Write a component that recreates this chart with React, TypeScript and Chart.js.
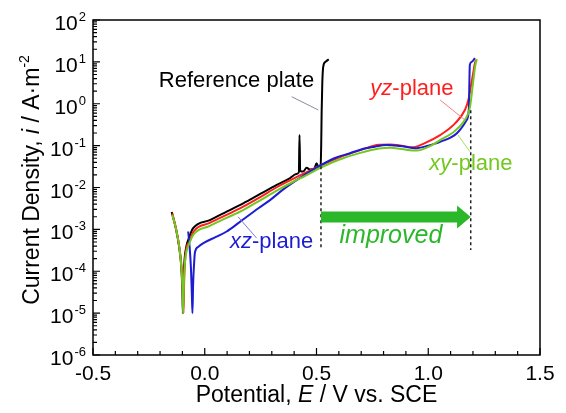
import { useEffect, useRef } from "react";
import { Chart, registerables } from "chart.js";

Chart.register(...registerables);

// ---- Data (potential E / V vs. SCE, current density i / A·m^-2) ----
const refPotential = [-0.148, -0.13, -0.115, -0.105, -0.1, -0.098, -0.095, -0.09, -0.082, -0.074, -0.052, 0.023, 0.1, 0.172, 0.25, 0.322, 0.38, 0.41, 0.421, 0.424, 0.427, 0.44, 0.456, 0.47, 0.49, 0.5, 0.51, 0.518, 0.521, 0.523, 0.526, 0.53, 0.54, 0.555];
const refCurrent = [2.6e-3, 1.1e-3, 4.0e-4, 1.26e-4, 3.2e-5, 1.0e-5, 6.3e-5, 2.0e-4, 4.0e-4, 5.6e-4, 1.07e-3, 1.66e-3, 2.7e-3, 4.2e-3, 7.1e-3, 1.15e-2, 1.66e-2, 2.1e-2, 2.3e-2, 0.18, 2.5e-2, 2.4e-2, 2.95e-2, 2.7e-2, 2.8e-2, 3.8e-2, 3.0e-2, 3.16e-2, 0.1, 0.63, 3.2, 7.6, 10, 11.5];

const yzPotential = [-0.145, -0.128, -0.113, -0.103, -0.098, -0.095, -0.092, -0.088, -0.082, -0.07, -0.05, 0.02, 0.1, 0.172, 0.25, 0.32, 0.4, 0.45, 0.52, 0.6, 0.7, 0.78, 0.83, 0.88, 0.93, 0.98, 1.053, 1.12, 1.164, 1.18, 1.19, 1.2, 1.208, 1.215];
const yzCurrent = [2.4e-3, 1.0e-3, 3.5e-4, 1.12e-4, 3.2e-5, 1.0e-5, 6.3e-5, 1.8e-4, 3.5e-4, 5.0e-4, 8.9e-4, 1.41e-3, 2.24e-3, 3.5e-3, 6.0e-3, 1.0e-2, 1.66e-2, 2.24e-2, 3.4e-2, 5.2e-2, 7.9e-2, 0.105, 0.107, 0.1, 0.091, 0.112, 0.178, 0.34, 0.71, 1.26, 2.5, 5.0, 8.9, 11.2];

const xyPotential = [-0.145, -0.128, -0.113, -0.104, -0.099, -0.097, -0.093, -0.088, -0.08, -0.07, -0.05, 0.02, 0.1, 0.172, 0.25, 0.32, 0.4, 0.45, 0.52, 0.6, 0.7, 0.78, 0.83, 0.88, 0.95, 1.0, 1.053, 1.127, 1.179, 1.187, 1.202, 1.21, 1.217];
const xyCurrent = [2.24e-3, 1.0e-3, 3.5e-4, 1.12e-4, 3.2e-5, 1.0e-5, 6.3e-5, 1.8e-4, 3.2e-4, 4.5e-4, 7.6e-4, 1.2e-3, 1.9e-3, 2.9e-3, 5.0e-3, 8.3e-3, 1.41e-2, 1.9e-2, 3.0e-2, 4.6e-2, 6.8e-2, 8.5e-2, 8.9e-2, 8.3e-2, 7.6e-2, 9.3e-2, 0.135, 0.245, 0.59, 0.85, 3.7, 7.9, 11.7];

const xzPotential = [-0.074, -0.068, -0.062, -0.058, -0.055, -0.052, -0.048, -0.044, -0.03, -0.006, 0.05, 0.098, 0.15, 0.188, 0.24, 0.292, 0.35, 0.411, 0.46, 0.523, 0.58, 0.65, 0.7, 0.754, 0.814, 0.874, 0.948, 1.0, 1.053, 1.127, 1.172, 1.182, 1.184, 1.186, 1.194, 1.209];
const xzCurrent = [8.9e-4, 4.0e-4, 1.26e-4, 3.2e-5, 1.0e-5, 5.0e-5, 1.41e-4, 2.8e-4, 3.8e-4, 4.7e-4, 6.6e-4, 8.9e-4, 1.41e-3, 2.0e-3, 3.2e-3, 5.0e-3, 8.9e-3, 1.5e-2, 2.2e-2, 3.5e-2, 5.0e-2, 6.6e-2, 8.1e-2, 9.3e-2, 0.104, 0.098, 0.087, 0.1, 0.123, 0.195, 0.41, 0.79, 3.2, 8.5, 10, 12.3];

// ---- Axis ticks ----
const xTickValues = [-0.5, 0.0, 0.5, 1.0, 1.5];
const xTickLabels = ["-0.5", "0.0", "0.5", "1.0", "1.5"];
const yTickExponents = [-6, -5, -4, -3, -2, -1, 0, 1, 2];
const yTickExpLabels = ["-6", "-5", "-4", "-3", "-2", "-1", "0", "1", "2"];

const FONT = "'Liberation Sans', Arial, Helvetica, sans-serif";
const C_BLACK = "#000000";
const C_RED = "#ff1e1e";
const C_GREEN = "#72c81e";
const C_BLUE = "#1c1cd2";
const C_ARROW = "#2ab82a";

type Part = { t: string; it?: boolean; sup?: boolean };

function drawRich(
  ctx: CanvasRenderingContext2D,
  parts: Part[],
  x: number,
  y: number,
  size: number,
  supSize: number,
  align: "left" | "center",
  color: string
) {
  const widths = parts.map((p) => {
    ctx.font = `${p.it ? "italic " : ""}${p.sup ? supSize : size}px ${FONT}`;
    return ctx.measureText(p.t).width;
  });
  const total = widths.reduce((a, b) => a + b, 0);
  let cx = align === "center" ? x - total / 2 : x;
  ctx.fillStyle = color;
  ctx.textAlign = "left";
  ctx.textBaseline = "alphabetic";
  parts.forEach((p, i) => {
    ctx.font = `${p.it ? "italic " : ""}${p.sup ? supSize : size}px ${FONT}`;
    ctx.fillText(p.t, cx, p.sup ? y - size * 0.42 : y);
    cx += widths[i];
  });
}

const decorPlugin = {
  id: "decor",
  afterDatasetsDraw(chart: any) {
    const { ctx, chartArea, scales } = chart;
    const { left, right, top, bottom } = chartArea;
    const xs = scales.x;
    const ys = scales.y;
    const px = (v: number) => xs.getPixelForValue(v);
    const py = (v: number) => ys.getPixelForValue(v);
    ctx.save();

    // dashed markers
    ctx.strokeStyle = "#222";
    ctx.lineWidth = 1.5;
    ctx.setLineDash([3, 3]);
    ctx.beginPath();
    ctx.moveTo(px(0.52), py(0.032));
    ctx.lineTo(px(0.52), py(3.2e-4));
    ctx.moveTo(px(1.19), py(0.7));
    ctx.lineTo(px(1.19), py(3.2e-4));
    ctx.stroke();
    ctx.setLineDash([]);

    // arrow
    const ay = py(1.97e-3);
    const ax0 = px(0.52);
    const axh = px(1.129);
    const ax1 = px(1.19);
    ctx.fillStyle = C_ARROW;
    ctx.beginPath();
    ctx.moveTo(ax0, ay - 5.5);
    ctx.lineTo(axh, ay - 5.5);
    ctx.lineTo(axh, ay - 11.5);
    ctx.lineTo(ax1, ay);
    ctx.lineTo(axh, ay + 11.5);
    ctx.lineTo(axh, ay + 5.5);
    ctx.lineTo(ax0, ay + 5.5);
    ctx.closePath();
    ctx.fill();

    // leader lines
    const leader = (x0: number, y0: number, x1: number, y1: number, c: string) => {
      ctx.strokeStyle = c;
      ctx.lineWidth = 1;
      ctx.beginPath();
      ctx.moveTo(px(x0), py(y0));
      ctx.lineTo(px(x1), py(y1));
      ctx.stroke();
    };
    leader(0.389, 1.47, 0.508, 0.71, "#8a8a9a");
    leader(1.053, 1.23, 1.164, 0.41, "#f08080");
    leader(1.133, 0.18, 1.187, 0.071, "#a8dc60");
    leader(0.149, 2.0e-3, 0.232, 6.2e-4, "#7a7ad8");

    // annotation labels
    drawRich(ctx, [{ t: "Reference plate" }], px(0.142), py(2.5), 22, 14, "center", C_BLACK);
    drawRich(ctx, [{ t: "yz", it: true }, { t: "-plane" }], px(0.927), py(1.62), 22, 14, "center", C_RED);
    drawRich(ctx, [{ t: "xy", it: true }, { t: "-plane" }], px(1.191), py(0.026), 22, 14, "center", C_GREEN);
    drawRich(ctx, [{ t: "xz", it: true }, { t: "-plane" }], px(0.299), py(3.6e-4), 22, 14, "center", C_BLUE);
    drawRich(ctx, [{ t: "improved", it: true }], px(0.833), py(4.7e-4), 25, 14, "center", C_ARROW);

    // frame
    ctx.strokeStyle = "#000";
    ctx.lineWidth = 1.5;
    ctx.strokeRect(left, top, right - left, bottom - top);

    // x ticks (inward)
    ctx.lineWidth = 1.2;
    ctx.beginPath();
    for (let i = 0; i <= 20; i++) {
      const v = -0.5 + i * 0.1;
      const p = px(v);
      const len = i % 5 === 0 ? 7 : 4;
      ctx.moveTo(p, bottom);
      ctx.lineTo(p, bottom - len);
    }
    // y ticks (inward)
    yTickExponents.forEach((e, k) => {
      const p = py(Math.pow(10, e));
      ctx.moveTo(left, p);
      ctx.lineTo(left + 7, p);
      if (k < yTickExponents.length - 1) {
        for (let m = 2; m <= 9; m++) {
          const q = py(m * Math.pow(10, e));
          ctx.moveTo(left, q);
          ctx.lineTo(left + 4, q);
        }
      }
    });
    ctx.stroke();

    // x tick labels
    ctx.fillStyle = "#000";
    ctx.font = `21px ${FONT}`;
    ctx.textAlign = "center";
    ctx.textBaseline = "alphabetic";
    xTickValues.forEach((v, i) => {
      ctx.fillText(xTickLabels[i], px(v), bottom + 25);
    });

    // y tick labels: 10^n
    yTickExponents.forEach((e, i) => {
      const p = py(Math.pow(10, e));
      ctx.font = `21px ${FONT}`;
      const w10 = ctx.measureText("10").width;
      ctx.font = `13px ${FONT}`;
      const we = ctx.measureText(yTickExpLabels[i]).width;
      const x0 = left - 7 - (w10 + 1 + we);
      ctx.textAlign = "left";
      ctx.font = `21px ${FONT}`;
      ctx.fillText("10", x0, p + 10);
      ctx.font = `13px ${FONT}`;
      ctx.fillText(yTickExpLabels[i], x0 + w10 + 1, p + 1);
    });

    // x axis title
    drawRich(
      ctx,
      [{ t: "Potential, " }, { t: "E", it: true }, { t: " / V vs. SCE" }],
      (left + right) / 2,
      bottom + 47,
      23,
      14,
      "center",
      "#000"
    );

    // y axis title
    ctx.save();
    ctx.translate(39, 180);
    ctx.rotate(-Math.PI / 2);
    drawRich(
      ctx,
      [{ t: "Current Density, " }, { t: "i", it: true }, { t: " / A·m" }, { t: "-2", sup: true }],
      0,
      0,
      23,
      14,
      "center",
      "#000"
    );
    ctx.restore();

    ctx.restore();
  },
};

function series(xs: number[], ys: number[]) {
  return xs.map((x, i) => ({ x, y: ys[i] }));
}

export default function App() {
  const ref = useRef<HTMLCanvasElement | null>(null);
  useEffect(() => {
    document.body.style.margin = "0";
    const canvas = ref.current;
    if (!canvas) return;
    const common = {
      showLine: true,
      pointRadius: 0,
      borderWidth: 2,
      cubicInterpolationMode: "monotone" as const,
      fill: false,
    };
    const chart = new Chart(canvas, {
      type: "line",
      data: {
        datasets: [
          { ...common, label: "xy-plane", data: series(xyPotential, xyCurrent), borderColor: C_GREEN },
          { ...common, label: "xz-plane", data: series(xzPotential, xzCurrent), borderColor: C_BLUE },
          { ...common, label: "yz-plane", data: series(yzPotential, yzCurrent), borderColor: C_RED },
          { ...common, label: "Reference plate", data: series(refPotential, refCurrent), borderColor: C_BLACK },
        ],
      },
      options: {
        responsive: false,
        animation: false,
        devicePixelRatio: 1,
        layout: { padding: { left: 93, top: 20, right: 26, bottom: 58 } },
        plugins: { legend: { display: false }, tooltip: { enabled: false } },
        scales: {
          x: { type: "linear", min: -0.5, max: 1.5, display: false },
          y: { type: "logarithmic", min: 1e-6, max: 100, display: false },
        },
      },
      plugins: [decorPlugin],
    });
    return () => chart.destroy();
  }, []);
  return <canvas ref={ref} width={566} height={413} style={{ display: "block" }} />;
}
